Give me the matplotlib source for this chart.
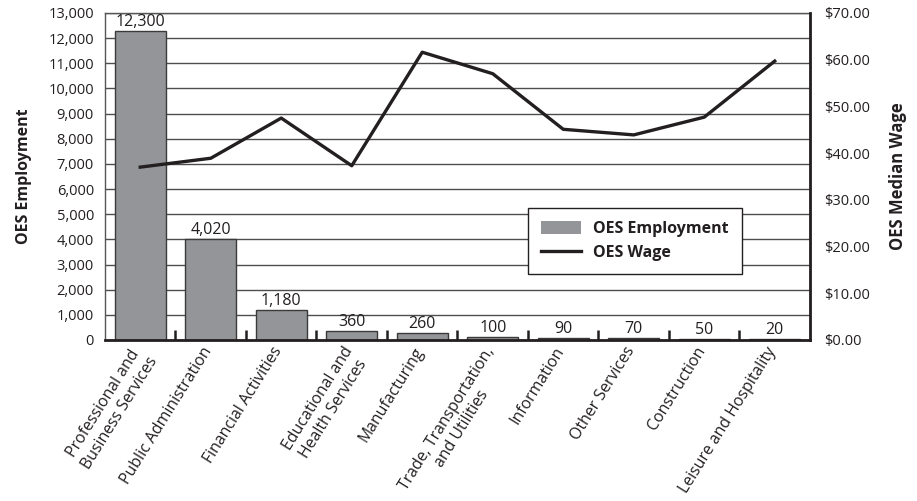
import matplotlib
matplotlib.use('Agg')
import matplotlib.pyplot as plt
import matplotlib.transforms as mtransforms
from matplotlib.patches import Patch
from matplotlib.lines import Line2D
from matplotlib.ticker import FuncFormatter, MultipleLocator

## industries, employment counts and median wages
industries = ['Professional and\nBusiness Services', 'Public Administration',
              'Financial Activities', 'Educational and\nHealth Services',
              'Manufacturing', 'Trade, Transportation,\nand Utilities',
              'Information', 'Other Services', 'Construction',
              'Leisure and Hospitality']
employment = [12300, 4020, 1180, 360, 260, 100, 90, 70, 50, 20]
median_wage = [37.0, 38.9, 47.5, 37.3, 61.6, 57.0, 45.1, 43.9, 47.7, 59.7]

plt.rcParams['font.family'] = ['Open Sans', 'DejaVu Sans']
ink = '#231f20'

fig = plt.figure(figsize=(9.17, 5.01), dpi=100)
ax = fig.add_axes([0.1145, 0.3214, 0.7688, 0.6527])

x = list(range(len(industries)))
ax.bar(x, employment, width=0.72, color='#939598', edgecolor='#3a3a3a',
       linewidth=1.0, zorder=2)
for xi, v in zip(x, employment):
    ax.text(xi, v + 40, '{:,}'.format(v), ha='center', va='bottom',
            fontsize=11.5, color=ink)

ax.set_xlim(-0.5, len(industries) - 0.5)
ax.set_ylim(0, 13000)
ax.yaxis.set_major_locator(MultipleLocator(1000))
ax.yaxis.set_major_formatter(FuncFormatter(lambda v, p: '{:,}'.format(int(v))))
ax.grid(axis='y', color='#4d4d4d', linewidth=1.0, zorder=0)
ax.set_axisbelow(True)

ax.set_xticks(x)
ax.set_xticklabels(industries, rotation=58, ha='right', va='top',
                   rotation_mode='anchor', fontsize=11.4,
                   multialignment='center', color=ink)
ax.tick_params(axis='x', length=0, pad=3)
# nudge the slanted labels a little to the left
shift = mtransforms.ScaledTranslation(-9 / 100, 0, fig.dpi_scale_trans)
for lbl in ax.get_xticklabels():
    lbl.set_transform(lbl.get_transform() + shift)
ax.set_xticks([i + 0.5 for i in range(len(industries) - 1)], minor=True)
ax.tick_params(axis='x', which='minor', direction='in', length=7, width=1.8,
               color=ink)
ax.tick_params(axis='y', length=0, labelsize=10.5, pad=8, colors=ink)
ax.set_ylabel('OES Employment', fontsize=11.5, fontweight='bold', labelpad=12,
              color=ink)

ax.spines['left'].set_color('#555555')
ax.spines['left'].set_linewidth(1.0)
ax.spines['top'].set_color('#555555')
ax.spines['top'].set_linewidth(1.0)
ax.spines['bottom'].set_color(ink)
ax.spines['bottom'].set_linewidth(2.0)

## wage line on the right axis
ax2 = ax.twinx()
ax2.plot(x, median_wage, color=ink, linewidth=2.4, zorder=3)
ax2.set_ylim(0, 70)
ax2.yaxis.set_major_locator(MultipleLocator(10))
ax2.yaxis.set_major_formatter(FuncFormatter(lambda v, p: '${:.2f}'.format(v)))
ax2.tick_params(axis='y', length=0, labelsize=10.5, pad=10, colors=ink)
ax2.set_ylabel('OES Median Wage', fontsize=12, fontweight='bold', labelpad=14,
               color=ink)
ax2.spines['right'].set_color(ink)
ax2.spines['right'].set_linewidth(2.0)
for s in ['left', 'top', 'bottom']:
    ax2.spines[s].set_visible(False)

handles = [Patch(facecolor='#939598', edgecolor='none', label='OES Employment'),
           Line2D([0], [0], color=ink, linewidth=2.4, label='OES Wage')]
leg = ax2.legend(handles=handles, loc='upper left', borderaxespad=0,
                 bbox_to_anchor=(0.6, 0.404), frameon=True, fancybox=False,
                 prop={'weight': 'bold', 'size': 11.5}, borderpad=0.8,
                 handlelength=2.5, handleheight=0.9, handletextpad=0.8,
                 labelspacing=0.5)
leg.get_frame().set_edgecolor(ink)
leg.get_frame().set_linewidth(1.0)
leg.get_frame().set_alpha(1.0)
for t in leg.get_texts():
    t.set_color(ink)

fig.savefig('out.png', dpi=100)
